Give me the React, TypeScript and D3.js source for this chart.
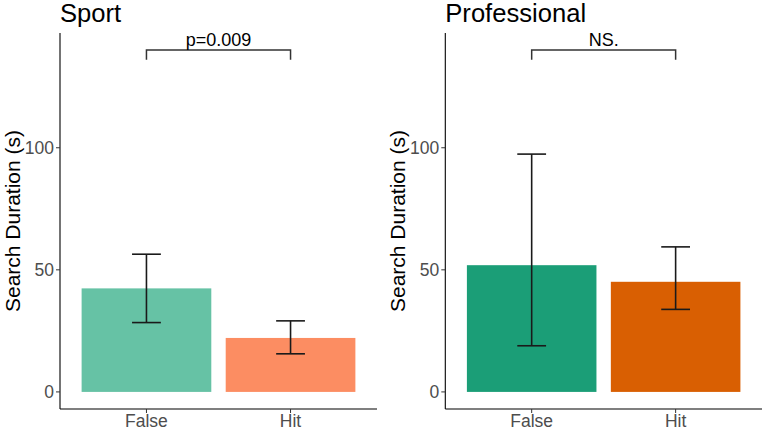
import React from "react"
import * as d3 from "d3"

// category labels shared by both panels
const categories = ["False", "Hit"]

// panel titles
const panelTitles = ["Sport", "Professional"]

// mean search duration (s)
const sportMeans = [42.4, 22.1]
const proMeans = [51.9, 45.1]

// error bar bounds
const sportLower = [28.4, 15.6]
const sportUpper = [56.4, 29.1]
const proLower = [18.9, 33.8]
const proUpper = [97.4, 59.4]

// significance brackets
const bracketLabels = ["p=0.009", "NS."]
const bracketY = 140
const bracketTip = 136

const yTicks = [0, 50, 100]

const sportColors = ["#66c2a5", "#fc8d62"]
const proColors = ["#1b9e77", "#d95f02"]

const W = 765
const H = 430
const FONT = "'Liberation Sans', Arial, sans-serif"

interface PanelProps {
  title: string
  means: number[]
  lower: number[]
  upper: number[]
  colors: string[]
  label: string
  left: number
  right: number
}

function Panel({ title, means, lower, upper, colors, label, left, right }: PanelProps) {
  const top = 33
  const bottom = 409
  const x = d3.scaleLinear().domain([0.4, 2.6]).range([left, right])
  const y = d3.scaleLinear().domain([-7, 147]).range([bottom, top])
  const barW = x(0.9) - x(0)
  const capW = x(0.2) - x(0)

  return (
    <g>
      <text x={left} y={22} fontSize={25.6} fill="#000" fontFamily={FONT}>{title}</text>
      <text
        transform={`translate(${left - 40},${(top + bottom) / 2}) rotate(-90)`}
        textAnchor="middle"
        fontSize={21}
        fill="#000"
        fontFamily={FONT}
      >
        Search Duration (s)
      </text>

      {means.map((m, i) => (
        <rect
          key={"b" + i}
          x={x(i + 1) - barW / 2}
          y={y(m)}
          width={barW}
          height={y(0) - y(m)}
          fill={colors[i]}
        />
      ))}

      {means.map((_, i) => {
        const cx = x(i + 1)
        return (
          <g key={"e" + i} stroke="#1a1a1a" strokeWidth={1.6}>
            <line x1={cx} x2={cx} y1={y(lower[i])} y2={y(upper[i])} />
            <line x1={cx - capW / 2} x2={cx + capW / 2} y1={y(lower[i])} y2={y(lower[i])} />
            <line x1={cx - capW / 2} x2={cx + capW / 2} y1={y(upper[i])} y2={y(upper[i])} />
          </g>
        )
      })}

      <path
        d={`M${x(1)},${y(bracketTip)}V${y(bracketY)}H${x(2)}V${y(bracketTip)}`}
        fill="none"
        stroke="#333"
        strokeWidth={1.5}
      />
      <text x={(x(1) + x(2)) / 2} y={y(bracketY) - 4} textAnchor="middle" fontSize={18} fill="#000" fontFamily={FONT}>
        {label}
      </text>

      {/* axes */}
      <line x1={left} x2={left} y1={top} y2={bottom} stroke="#000" strokeWidth={1.1} />
      <line x1={left} x2={right} y1={bottom} y2={bottom} stroke="#000" strokeWidth={1.1} />
      {yTicks.map(t => (
        <g key={"yt" + t}>
          <line x1={left - 4} x2={left} y1={y(t)} y2={y(t)} stroke="#333" strokeWidth={1} />
          <text x={left - 6} y={y(t) + 6} textAnchor="end" fontSize={17.5} fill="#4d4d4d" fontFamily={FONT}>{t}</text>
        </g>
      ))}
      {categories.map((c, i) => (
        <g key={"xt" + c}>
          <line x1={x(i + 1)} x2={x(i + 1)} y1={bottom} y2={bottom + 4} stroke="#333" strokeWidth={1} />
          <text x={x(i + 1)} y={427} textAnchor="middle" fontSize={17.5} fill="#4d4d4d" fontFamily={FONT}>{c}</text>
        </g>
      ))}
    </g>
  )
}

export default function App() {
  return (
    <svg width={W} height={H} style={{ position: "absolute", left: 0, top: 0, background: "#fff" }}>
      <Panel
        title={panelTitles[0]}
        means={sportMeans}
        lower={sportLower}
        upper={sportUpper}
        colors={sportColors}
        label={bracketLabels[0]}
        left={60}
        right={377}
      />
      <Panel
        title={panelTitles[1]}
        means={proMeans}
        lower={proLower}
        upper={proUpper}
        colors={proColors}
        label={bracketLabels[1]}
        left={445.3}
        right={762}
      />
    </svg>
  )
}
